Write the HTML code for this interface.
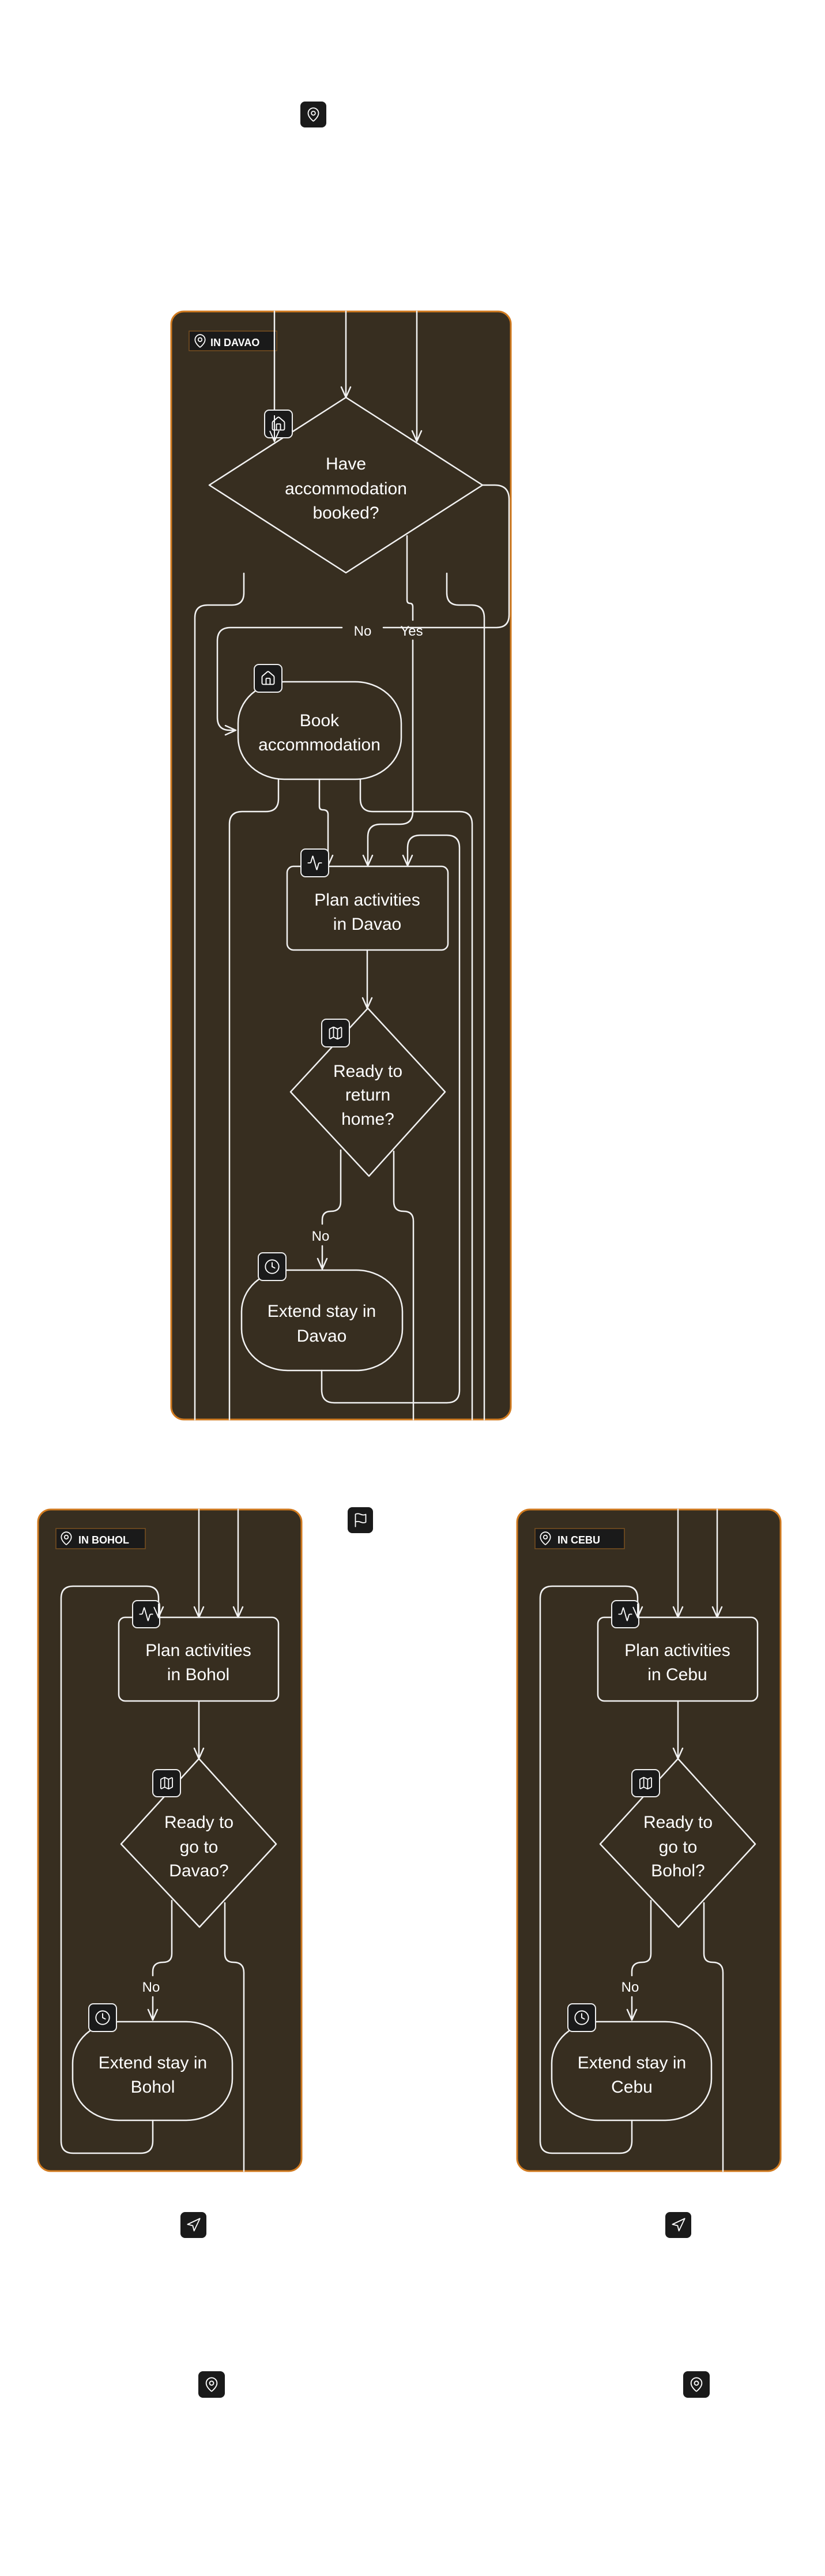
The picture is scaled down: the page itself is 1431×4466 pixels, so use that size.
<!DOCTYPE html>
<html><head><meta charset="utf-8"><style>
html,body{margin:0;padding:0;background:#fff;}
svg{display:block;}
text{font-family:"Liberation Sans",sans-serif;fill:#fff;}
</style></head><body>
<svg width="1431" height="4466" viewBox="0 0 1431 4466" xmlns="http://www.w3.org/2000/svg">
<defs>
<symbol id="i-pin" viewBox="0 0 24 24"><g fill="none" stroke="#fff" stroke-width="1.6" stroke-linecap="round" stroke-linejoin="round"><path d="M20 10c0 4.993-5.539 10.193-7.399 11.799a1 1 0 0 1-1.202 0C9.539 20.193 4 14.993 4 10a8 8 0 0 1 16 0"/><circle cx="12" cy="10" r="3"/></g></symbol>
<symbol id="i-house" viewBox="0 0 24 24"><g fill="none" stroke="#fff" stroke-width="1.6" stroke-linecap="round" stroke-linejoin="round"><path d="M15 21v-8a1 1 0 0 0-1-1h-4a1 1 0 0 0-1 1v8"/><path d="M3 10a2 2 0 0 1 .709-1.528l7-5.999a2 2 0 0 1 2.582 0l7 5.999A2 2 0 0 1 21 10v9a2 2 0 0 1-2 2H5a2 2 0 0 1-2-2z"/></g></symbol>
<symbol id="i-act" viewBox="0 0 24 24"><g fill="none" stroke="#fff" stroke-width="1.6" stroke-linecap="round" stroke-linejoin="round"><path d="M22 12h-2.48a2 2 0 0 0-1.93 1.46l-2.35 8.36a.25.25 0 0 1-.48 0L9.24 2.18a.25.25 0 0 0-.48 0l-2.350 8.360A2 2 0 0 1 4.49 12H2"/></g></symbol>
<symbol id="i-map" viewBox="0 0 24 24"><g fill="none" stroke="#fff" stroke-width="1.6" stroke-linecap="round" stroke-linejoin="round"><path d="M14.106 5.553a2 2 0 0 0 1.788 0l3.659-1.83A1 1 0 0 1 21 4.619v12.764a1 1 0 0 1-.553.894l-4.553 2.277a2 2 0 0 1-1.788 0l-4.212-2.106a2 2 0 0 0-1.788 0l-3.659 1.83A1 1 0 0 1 3 19.381V6.618a1 1 0 0 1 .553-.894l4.553-2.277a2 2 0 0 1 1.788 0z"/><path d="M15 5.764v15"/><path d="M9 3.236v15"/></g></symbol>
<symbol id="i-clock" viewBox="0 0 24 24"><g fill="none" stroke="#fff" stroke-width="1.6" stroke-linecap="round" stroke-linejoin="round"><circle cx="12" cy="12" r="10"/><path d="M12 6v6l4 2"/></g></symbol>
<symbol id="i-flag" viewBox="0 0 24 24"><g fill="none" stroke="#fff" stroke-width="1.6" stroke-linecap="round" stroke-linejoin="round"><path d="M4 15s1-1 4-1 5 2 8 2 4-1 4-1V3s-1 1-4 1-5-2-8-2-4 1-4 1z"/><path d="M4 22v-7"/></g></symbol>
<symbol id="i-nav" viewBox="0 0 24 24"><g fill="none" stroke="#fff" stroke-width="1.6" stroke-linecap="round" stroke-linejoin="round"><polygon points="3 11 22 2 13 21 11 13 3 11"/></g></symbol>
</defs>

<!-- outside icons -->
<rect x="521" y="176" width="45" height="45" rx="8" fill="#1a1a1a"/><use href="#i-pin" x="530" y="185" width="27" height="27"/>
<rect x="603" y="2613" width="44" height="45" rx="8" fill="#1a1a1a"/><use href="#i-flag" x="612" y="2622" width="27" height="27"/>
<rect x="313" y="3835" width="45" height="45" rx="8" fill="#1a1a1a"/><use href="#i-nav" x="322" y="3844" width="27" height="27"/>
<rect x="1154" y="3835" width="45" height="45" rx="8" fill="#1a1a1a"/><use href="#i-nav" x="1163" y="3844" width="27" height="27"/>
<rect x="344" y="4111" width="46" height="46" rx="8" fill="#1a1a1a"/><use href="#i-pin" x="353" y="4120" width="28" height="28"/>
<rect x="1185" y="4111" width="46" height="46" rx="8" fill="#1a1a1a"/><use href="#i-pin" x="1194" y="4120" width="28" height="28"/>

<!-- ===== DAVAO ===== -->
<rect x="297" y="540" width="589" height="1921" rx="22" fill="#372e20" stroke="#d07a1f" stroke-width="3"/>
<rect x="328" y="574" width="152" height="34" fill="#1a1a1a" stroke="#7a5020" stroke-width="1.5"/>
<use href="#i-pin" x="334" y="578" width="26" height="26"/>
<text x="365" y="600" font-size="18" font-weight="bold">IN DAVAO</text>

<g fill="none" stroke="#f2f2f2" stroke-width="2.5" stroke-linecap="round" stroke-linejoin="round">
<path d="M476 540V765 M468 747L476 765L484 747"/>
<path d="M600 540V689 M592 671L600 689L608 671"/>
<path d="M723 540V765 M715 747L723 765L731 747"/>
<path d="M600 689L837 841L600 993L363 841Z"/>
<path d="M837 841H858Q883 841 883 866V1066Q883 1088 861 1088H665 M593 1088H400Q377 1088 377 1111V1244Q377 1266 399 1266H409 M391 1258L409 1266L391 1274"/>
<path d="M706 929V1040Q706 1046 711 1046Q716 1046 716 1052V1075 M716 1110V1407Q716 1429 694 1429H660Q638 1429 638 1451V1501 M630 1483L638 1501L646 1483"/>
<path d="M423 994V1028Q423 1049 402 1049H360Q338 1049 338 1071V2461"/>
<path d="M775 994V1028Q775 1049 796 1049H818Q840 1049 840 1071V2461"/>
<rect x="413" y="1182" width="283" height="169" rx="80" ry="72"/>
<path d="M483 1351V1385Q483 1407 461 1407H420Q398 1407 398 1429V2461"/>
<path d="M554 1351V1398Q554 1404 560 1404Q569 1404 569 1412V1501 M561 1483L569 1501L577 1483"/>
<path d="M625 1351V1385Q625 1407 647 1407H797Q819 1407 819 1429V2461"/>
<path d="M558 2376V2410Q558 2432 580 2432H775Q797 2432 797 2410V1470Q797 1448 775 1448H729Q707 1448 707 1470V1501 M699 1483L707 1501L715 1483"/>
<rect x="498" y="1502" width="279" height="145" rx="11"/>
<path d="M637 1647V1748 M629 1730L637 1748L645 1730"/>
<path d="M638 1748L772 1893L640 2039L504 1893Z"/>
<path d="M591 1994V2083Q591 2100 574 2100Q559 2100 559 2115V2122 M559 2160V2200 M551 2182L559 2200L567 2182"/>
<path d="M683 1996V2083Q683 2100 700 2100Q717 2100 717 2117V2461"/>
<rect x="419" y="2202" width="279" height="174" rx="80" ry="72"/>
</g>
<g font-size="30" text-anchor="middle">
<text x="600" y="814">Have</text><text x="600" y="857">accommodation</text><text x="600" y="899">booked?</text>
<text x="554" y="1259">Book</text><text x="554" y="1301">accommodation</text>
<text x="637" y="1570">Plan activities</text><text x="637" y="1612">in Davao</text>
<text x="638" y="1867">Ready to</text><text x="638" y="1908">return</text><text x="638" y="1950">home?</text>
<text x="558" y="2283">Extend stay in</text><text x="558" y="2326">Davao</text>
</g>
<g font-size="24" text-anchor="middle">
<text x="629" y="1102">No</text><text x="714" y="1102">Yes</text><text x="556" y="2151">No</text>
</g>
<g stroke="#eee" stroke-width="2" fill="#1a1a1a">
<rect x="459" y="711" width="48" height="48" rx="8"/><rect x="441" y="1152" width="48" height="48" rx="8"/>
<rect x="522" y="1472" width="48" height="48" rx="8"/><rect x="558" y="1767" width="48" height="48" rx="8"/>
<rect x="448" y="2172" width="48" height="48" rx="8"/>
</g>
<use href="#i-house" x="469" y="721" width="28" height="28"/><use href="#i-house" x="451" y="1162" width="28" height="28"/>
<use href="#i-act" x="532" y="1482" width="28" height="28"/><use href="#i-map" x="568" y="1777" width="28" height="28"/>
<use href="#i-clock" x="458" y="2182" width="28" height="28"/>
<path d="M476 720V765 M468 747L476 765L484 747" fill="none" stroke="#f2f2f2" stroke-width="2"/>

<!-- ===== BOHOL & CEBU ===== -->
<g id="bohol">
<rect x="66" y="2617" width="457" height="1147" rx="22" fill="#372e20" stroke="#d07a1f" stroke-width="3"/>
<rect x="97" y="2650" width="155" height="35" fill="#1a1a1a" stroke="#7a5020" stroke-width="1.5"/>
<use href="#i-pin" x="102" y="2654" width="26" height="26"/>
<g fill="none" stroke="#f2f2f2" stroke-width="2.5" stroke-linecap="round" stroke-linejoin="round">
<path d="M345 2617V2804 M337 2786L345 2804L353 2786"/>
<path d="M413 2617V2804 M405 2786L413 2804L421 2786"/>
<rect x="206" y="2804" width="277" height="145" rx="11"/>
<path d="M345 2949V3049 M337 3031L345 3049L353 3031"/>
<path d="M345 3049L479 3197L346 3341L210 3197Z"/>
<path d="M298 3295V3387Q298 3402 283 3402Q265 3402 265 3418V3425 M265 3462V3502 M257 3484L265 3502L273 3484"/>
<path d="M390 3299V3387Q390 3402 405 3402Q423 3402 423 3420V3764"/>
<rect x="126" y="3505" width="277" height="171" rx="80" ry="72"/>
<path d="M265 3676V3712Q265 3733 244 3733H127Q106 3733 106 3712V2771Q106 2750 127 2750H254Q275 2750 275 2771V2804 M267 2786L275 2804L283 2786"/>
</g>
<g stroke="#eee" stroke-width="2" fill="#1a1a1a">
<rect x="230" y="2775" width="47" height="47" rx="8"/><rect x="265" y="3068" width="48" height="47" rx="8"/><rect x="154" y="3474" width="48" height="48" rx="8"/>
</g>
<use href="#i-act" x="240" y="2785" width="27" height="27"/><use href="#i-map" x="275" y="3078" width="28" height="27"/><use href="#i-clock" x="164" y="3484" width="28" height="28"/>
<path d="M275 2780V2804 M267 2786L275 2804L283 2786" fill="none" stroke="#f2f2f2" stroke-width="2"/>
<g font-size="24" text-anchor="middle"><text x="262" y="3453">No</text></g>
</g>
<use href="#bohol" x="831" y="0"/>

<text x="136" y="2676" font-size="18" font-weight="bold">IN BOHOL</text>
<text x="967" y="2676" font-size="18" font-weight="bold">IN CEBU</text>
<g font-size="30" text-anchor="middle">
<text x="344" y="2871">Plan activities</text><text x="344" y="2913">in Bohol</text>
<text x="345" y="3169">Ready to</text><text x="345" y="3212">go to</text><text x="345" y="3253">Davao?</text>
<text x="265" y="3586">Extend stay in</text><text x="265" y="3628">Bohol</text>
<text x="1175" y="2871">Plan activities</text><text x="1175" y="2913">in Cebu</text>
<text x="1176" y="3169">Ready to</text><text x="1176" y="3212">go to</text><text x="1176" y="3253">Bohol?</text>
<text x="1096" y="3586">Extend stay in</text><text x="1096" y="3628">Cebu</text>
</g>
</svg>
</body></html>
